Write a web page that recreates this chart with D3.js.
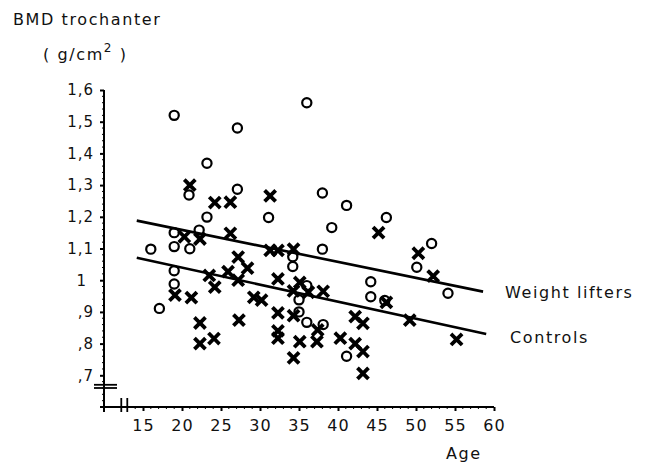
<!DOCTYPE html>
<html>
<head>
<meta charset="utf-8">
<script src="https://cdn.jsdelivr.net/npm/d3@7"></script>
<style>
  body { margin: 0; background: #fff; }
  svg text { font-family: "DejaVu Sans", sans-serif; fill: #111; }
  .axis path, .axis line { stroke: #000; stroke-width: 2; }
  .axis text { font-size: 15px; letter-spacing: 1px; }
  .x.axis text { font-size: 16px; }
  .lbl { font-size: 16px; letter-spacing: 1.6px; }
</style>
</head>
<body>
<div id="chart"></div>
<script>
// weight lifters (circles): [age, BMD]
var lifters = [
  [16.0, 1.098], [17.1, 0.911], [19.0, 1.52], [19.0, 1.150], [19.0, 1.106],
  [19.0, 1.030], [19.0, 0.988], [20.9, 1.269], [21.0, 1.099], [22.2, 1.158],
  [23.2, 1.369], [23.2, 1.199], [27.1, 1.48], [27.1, 1.287], [31.1, 1.198],
  [34.2, 1.074], [34.2, 1.043], [35.0, 0.938], [35.0, 0.900], [36.0, 1.56],
  [36.0, 0.983], [36.0, 0.867], [38.0, 1.275], [38.0, 1.098], [38.1, 0.860],
  [39.2, 1.166], [41.1, 1.236], [41.1, 0.760], [44.2, 0.995], [44.2, 0.948],
  [46.2, 1.198], [46.0, 0.936], [50.1, 1.041], [52.0, 1.116], [54.1, 0.959]
];
// controls (crosses): [age, BMD]
var controls = [
  [19.1, 0.953], [20.3, 1.137], [21.0, 1.30], [21.2, 0.945], [22.3, 1.130],
  [22.3, 0.865], [22.3, 0.800], [23.5, 1.015], [24.2, 1.245], [24.2, 0.978],
  [24.1, 0.816], [26.2, 1.246], [26.2, 1.148], [25.9, 1.027], [27.2, 1.073],
  [27.2, 1.000], [27.3, 0.874], [28.4, 1.038], [29.2, 0.946], [30.2, 0.937],
  [31.3, 1.266], [31.3, 1.094], [32.3, 1.094], [32.3, 1.004], [32.3, 0.897],
  [32.3, 0.840], [32.3, 0.817], [34.3, 1.098], [34.3, 0.966], [34.3, 0.888],
  [34.3, 0.755], [35.1, 0.993], [35.1, 0.806], [36.2, 0.962], [37.4, 0.843],
  [37.3, 0.806], [38.1, 0.965], [40.3, 0.817], [42.2, 0.885], [43.2, 0.864],
  [42.2, 0.800], [43.2, 0.775], [43.2, 0.706], [45.2, 1.150], [46.2, 0.930],
  [49.2, 0.874], [50.3, 1.085], [52.2, 1.013], [55.2, 0.813]
];
// regression lines, end points [age, BMD]
var liftersFit = [[14.2, 1.188], [58.6, 0.964]];
var controlsFit = [[14.2, 1.071], [59.0, 0.830]];
var fitNames = ["Weight lifters", "Controls"];

var xTicks = [15, 20, 25, 30, 35, 40, 45, 50, 55, 60];
var yTicks = [1.6, 1.5, 1.4, 1.3, 1.2, 1.1, 1.0, 0.9, 0.8, 0.7];
var yTickLabels = ["1,6", "1,5", "1,4", "1,3", "1,2", "1,1", "1", ",9", ",8", ",7"];

var W = 650, H = 462;
var margin = {top: 90, right: 156, bottom: 55, left: 104};
var width = W - margin.left - margin.right;
var height = H - margin.top - margin.bottom;

var svg = d3.select('#chart').append('svg')
    .attr('width', W)
    .attr('height', H);

var g = svg.append('g')
    .attr('transform', 'translate(' + margin.left + ',' + margin.top + ')');

var x = d3.scaleLinear().domain([10, 60]).range([0, width]);
var y = d3.scaleLinear().domain([0.6, 1.6]).range([height, 0]);

// minor ticks
var yMinor = d3.range(0.62, 1.6, 0.02).filter(function(v) { return Math.abs(v * 10 - Math.round(v * 10)) > 0.01; });
g.selectAll('.yminor').data(yMinor).enter().append('line')
    .attr('x1', -2).attr('x2', 0)
    .attr('y1', function(d) { return y(d); }).attr('y2', function(d) { return y(d); })
    .attr('stroke', '#000').attr('stroke-width', 1);
var xMinor = d3.range(14, 60, 1).filter(function(v) { return v % 5 != 0; });
g.selectAll('.xminor').data(xMinor).enter().append('line')
    .attr('x1', function(d) { return x(d); }).attr('x2', function(d) { return x(d); })
    .attr('y1', height).attr('y2', height + 2)
    .attr('stroke', '#000').attr('stroke-width', 1);

var yAxis = d3.axisLeft(y)
    .tickValues(yTicks)
    .tickSize(4)
    .tickSizeOuter(0)
    .tickPadding(6)
    .tickFormat(function(d, i) { return yTickLabels[i]; });
var yg = g.append('g').attr('class', 'y axis').call(yAxis);
yg.select('.domain').attr('d', 'M0,0V' + (height + 5));
yg.selectAll('.tick text').attr('dx', function(d) { return d == 1 ? -7 : 0; });

var xAxis = d3.axisBottom(x)
    .tickValues(xTicks)
    .tickSize(4)
    .tickSizeOuter(0)
    .tickPadding(9);
var xg = g.append('g').attr('class', 'x axis')
    .attr('transform', 'translate(0,' + height + ')')
    .call(xAxis);
xg.select('.domain').attr('d', 'M-4,0H' + width);

// axis breaks
var yb = y(0.665);
g.append('line').attr('x1', -10).attr('x2', 13).attr('y1', yb - 1.6).attr('y2', yb - 1.6).attr('stroke', '#000').attr('stroke-width', 1.8);
g.append('line').attr('x1', -10).attr('x2', 13).attr('y1', yb + 1.6).attr('y2', yb + 1.6).attr('stroke', '#000').attr('stroke-width', 1.8);
var xb = x(12.6);
g.append('line').attr('x1', xb - 3).attr('x2', xb - 3).attr('y1', height - 9).attr('y2', height + 5).attr('stroke', '#000').attr('stroke-width', 1.8);
g.append('line').attr('x1', xb + 3).attr('x2', xb + 3).attr('y1', height - 9).attr('y2', height + 5).attr('stroke', '#000').attr('stroke-width', 1.8);

// regression lines
var line = d3.line()
    .x(function(d) { return x(d[0]); })
    .y(function(d) { return y(d[1]); });
[liftersFit, controlsFit].forEach(function(f) {
    g.append('path').datum(f)
        .attr('d', line)
        .attr('fill', 'none')
        .attr('stroke', '#000')
        .attr('stroke-width', 2.6);
});

// points
g.selectAll('.wl').data(lifters).enter().append('circle')
    .attr('class', 'wl')
    .attr('cx', function(d) { return x(d[0]); })
    .attr('cy', function(d) { return y(d[1]); })
    .attr('r', 4.6)
    .attr('fill', 'none')
    .attr('stroke', '#000')
    .attr('stroke-width', 2.2);

var s = 4.2;
g.selectAll('.ct').data(controls).enter().append('path')
    .attr('class', 'ct')
    .attr('d', function(d) {
        var cx = x(d[0]), cy = y(d[1]);
        return 'M' + (cx - s) + ',' + (cy - s) + 'L' + (cx + s) + ',' + (cy + s) +
               'M' + (cx - s) + ',' + (cy + s) + 'L' + (cx + s) + ',' + (cy - s);
    })
    .attr('stroke', '#000')
    .attr('stroke-width', 3.8)
    .attr('stroke-linecap', 'square');

// line labels
g.append('text').attr('class', 'lbl')
    .attr('x', 401).attr('y', y(liftersFit[1][1]) + 6)
    .text(fitNames[0]);
g.append('text').attr('class', 'lbl')
    .attr('x', 406).attr('y', y(controlsFit[1][1]) + 9)
    .text(fitNames[1]);

// titles
svg.append('text').attr('class', 'lbl').attr('x', 13).attr('y', 25).text('BMD trochanter');
var u = svg.append('text').attr('class', 'lbl').attr('x', 43).attr('y', 60);
u.append('tspan').text('( g/cm');
u.append('tspan').attr('dy', -8).attr('font-size', 12).text('2');
u.append('tspan').attr('dy', 8).text(' )');
svg.append('text').attr('class', 'lbl').attr('x', 446).attr('y', 459).text('Age');
</script>
</body>
</html>
